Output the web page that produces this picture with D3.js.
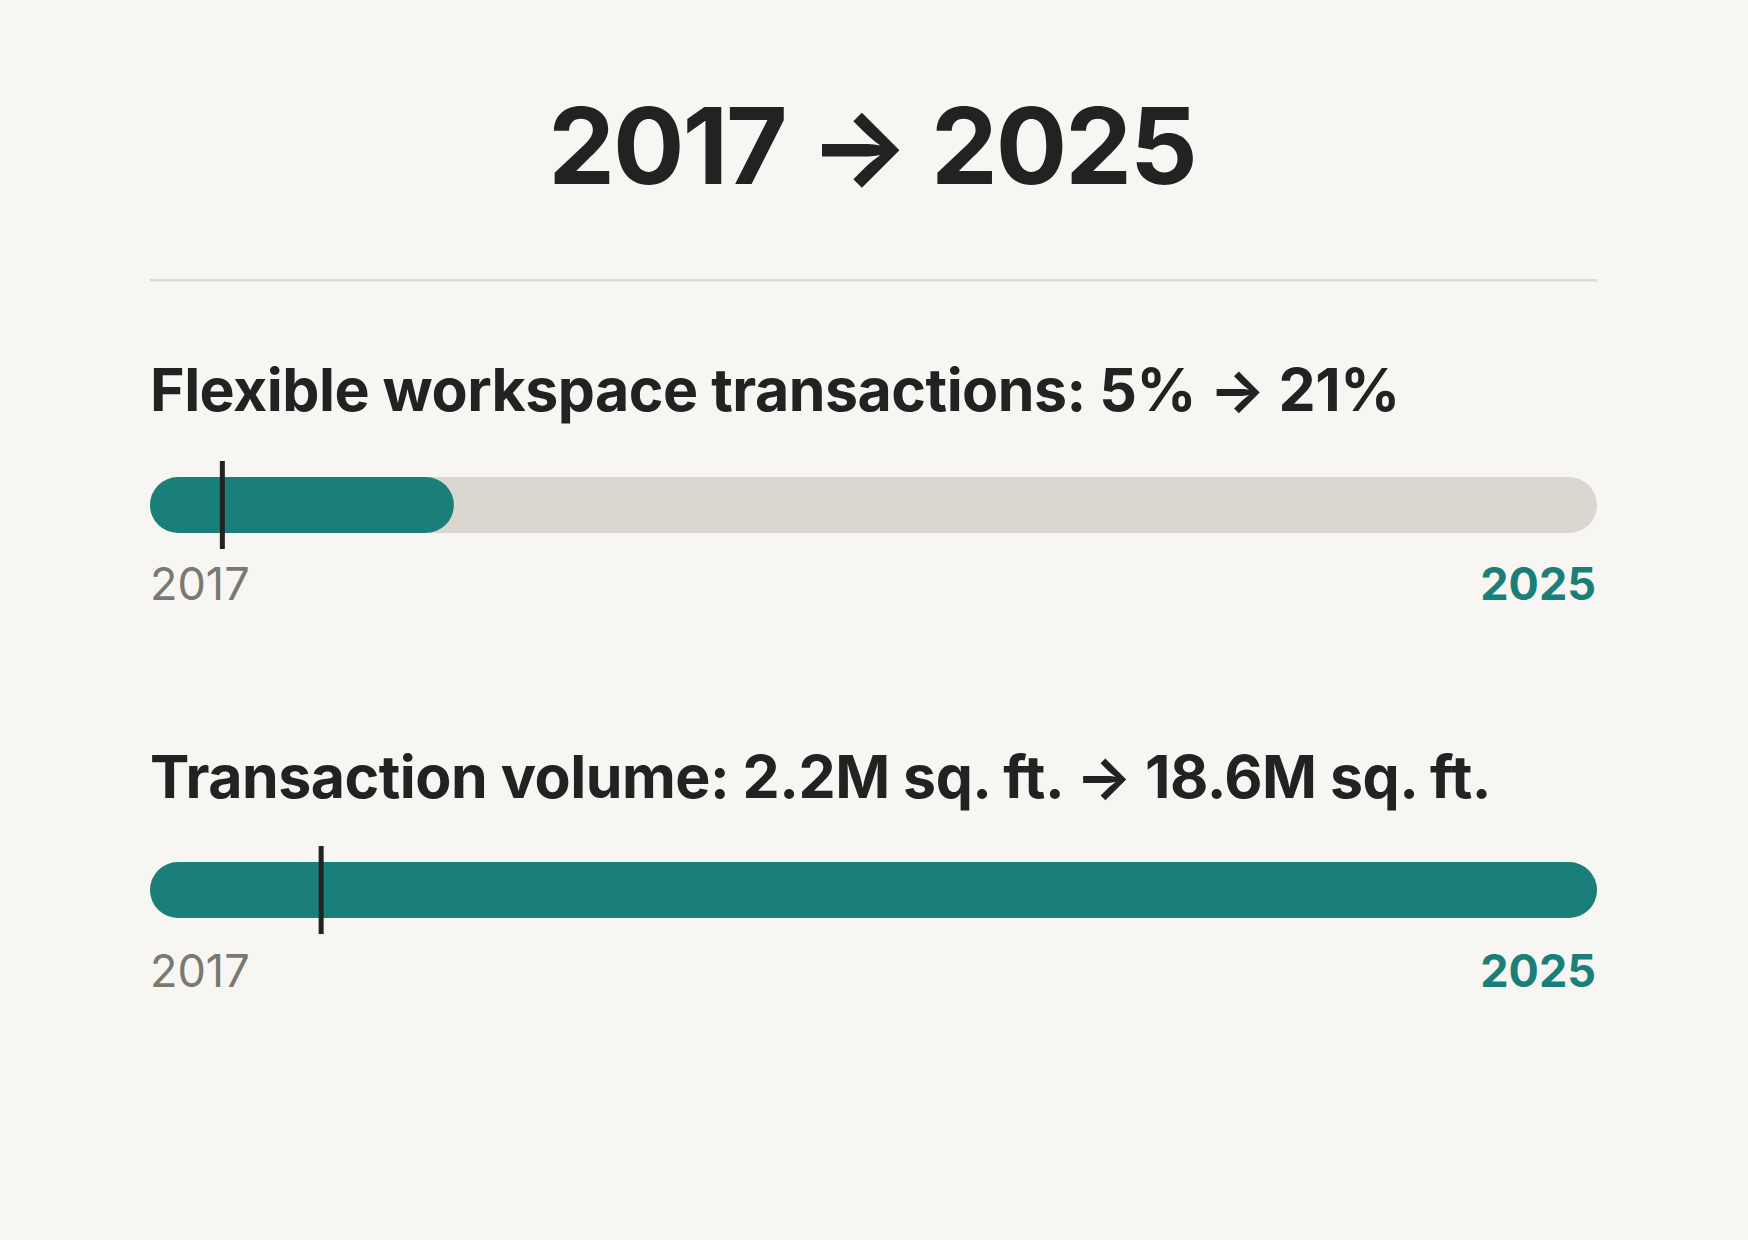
<!DOCTYPE html>
<html>
<head>
<meta charset="utf-8">
<script src="https://cdn.jsdelivr.net/npm/d3@7"></script>
<style>
  html, body { margin: 0; padding: 0; background: #f7f6f2; }
  svg { display: block; }
  text { font-family: Inter, "Noto Sans", sans-serif; }
</style>
</head>
<body>
<div id="chart"></div>
<script>
// ---- data ----
const titleText = "2017 \u2192 2025";
const metricNames = ["Flexible workspace transactions", "Transaction volume"];
const startLabels = ["5%", "2.2M sq. ft."];
const endLabels = ["21%", "18.6M sq. ft."];
const startValues = [5, 2.2];
const endValues = [21, 18.6];
const scaleMax = [100, 18.6];
const startYear = "2017";
const endYear = "2025";

// ---- layout ----
const W = 1748, H = 1240;
const left = 150, right = 1597;
const barH = 56;
const blocks = [
  { headY: 411, barTop: 477, labelY: 600 },
  { headY: 798, barTop: 862, labelY: 987 }
];
const teal = "#1b7f79", track = "#dad7d0", ink = "#222222", muted = "#7a7873";

const svg = d3.select("#chart").append("svg")
  .attr("width", W).attr("height", H)
  .style("background", "#f7f6f2");

svg.append("text")
  .attr("x", W / 2 - 2).attr("y", 184)
  .attr("text-anchor", "middle")
  .attr("font-size", 106).attr("font-weight", 700)
  .attr("letter-spacing", "-2px")
  .attr("fill", ink)
  .text(titleText);

svg.append("rect")
  .attr("x", left).attr("y", 279).attr("width", right - left).attr("height", 2.5)
  .attr("fill", "#dcdad4");

metricNames.forEach((name, i) => {
  const b = blocks[i];
  const x = d3.scaleLinear().domain([0, scaleMax[i]]).range([left, right]);
  const g = svg.append("g");

  g.append("text")
    .attr("x", left).attr("y", b.headY)
    .attr("font-size", 59).attr("font-weight", 700)
    .attr("letter-spacing", "-0.5px")
    .attr("fill", ink)
    .text(`${name}: ${startLabels[i]} \u2192 ${endLabels[i]}`);

  g.append("rect")
    .attr("x", x(0)).attr("y", b.barTop)
    .attr("width", x(scaleMax[i]) - x(0)).attr("height", barH)
    .attr("rx", barH / 2).attr("fill", track);

  g.append("rect")
    .attr("x", x(0)).attr("y", b.barTop)
    .attr("width", x(endValues[i]) - x(0)).attr("height", barH)
    .attr("rx", barH / 2).attr("fill", teal);

  g.append("line")
    .attr("x1", x(startValues[i])).attr("x2", x(startValues[i]))
    .attr("y1", b.barTop - 16).attr("y2", b.barTop + barH + 16)
    .attr("stroke", ink).attr("stroke-width", 5);

  g.append("text")
    .attr("x", left).attr("y", b.labelY)
    .attr("font-size", 45).attr("font-weight", 400)
    .attr("fill", muted)
    .text(startYear);

  g.append("text")
    .attr("x", right - 1).attr("y", b.labelY)
    .attr("text-anchor", "end")
    .attr("font-size", 45).attr("font-weight", 700)
    .attr("fill", teal)
    .text(endYear);
});
</script>
</body>
</html>
